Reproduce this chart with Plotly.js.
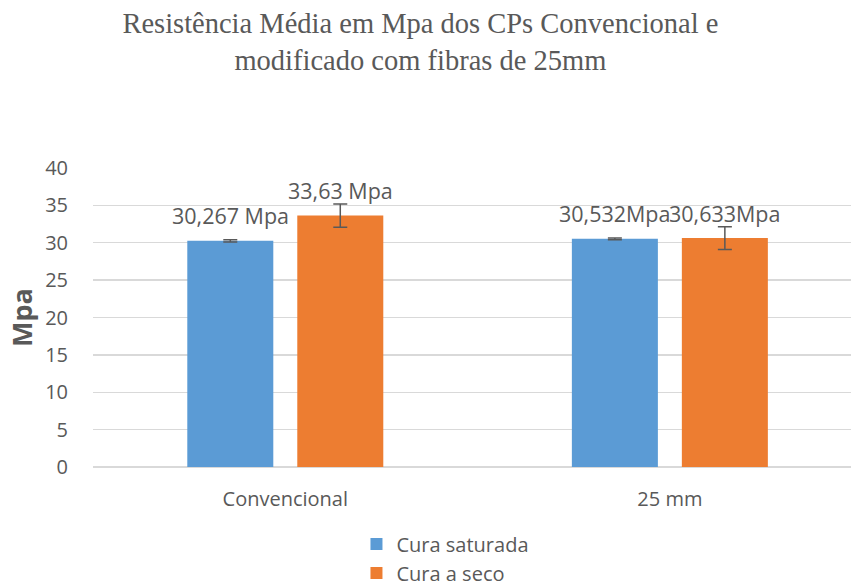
<!DOCTYPE html>
<html>
<head>
<meta charset="utf-8">
<script src="https://cdn.plot.ly/plotly-3.0.1.min.js"></script>
<style>html,body{margin:0;padding:0;background:#fff;}#chart{width:851px;height:586px;}</style>
</head>
<body>
<div id="chart"></div>
<script>
const categories = ['Convencional', '25 mm'];
const seriesNames = ['Cura saturada', 'Cura a seco'];
const curaSaturada = [30.267, 30.532];
const curaSeco = [33.63, 30.633];
const erroSaturada = [0.15, 0.12];
const erroSeco = [1.55, 1.52];
const rotulosSaturada = ['30,267 Mpa', '30,532Mpa'];
const rotulosSeco = ['33,63 Mpa', '30,633Mpa'];
const yTicks = [0, 5, 10, 15, 20, 25, 30, 35, 40];

const textColor = '#595959';
const font = 'Open Sans, sans-serif';
const bargap = 0.428;
const bargroupgap = 0.218;

const errStyle = {type: 'data', visible: true, color: '#595959', thickness: 1.5, width: 7};

const traces = [
  {type: 'bar', name: seriesNames[0], x: categories, y: curaSaturada,
   marker: {color: '#5B9BD5'}, error_y: Object.assign({array: erroSaturada}, errStyle), hoverinfo: 'none'},
  {type: 'bar', name: seriesNames[1], x: categories, y: curaSeco,
   marker: {color: '#ED7D31'}, error_y: Object.assign({array: erroSeco}, errStyle), hoverinfo: 'none'}
];

// label positions follow the bar slots
const plotLeft = 93, plotWidth = 758;
const xRange = [-0.5, 1.471];
const pxPerCat = plotWidth / (xRange[1] - xRange[0]);
const slot = pxPerCat * (1 - bargap) / 2;
const annotations = [];
categories.forEach((c, i) => {
  annotations.push({x: c, y: curaSaturada[i], xref: 'x', yref: 'y', text: rotulosSaturada[i],
    showarrow: false, xshift: -slot / 2, yshift: 25, yanchor: 'middle',
    font: {family: font, size: 21.5, color: textColor}});
  annotations.push({x: c, y: curaSeco[i], xref: 'x', yref: 'y', text: rotulosSeco[i],
    showarrow: false, xshift: slot / 2, yshift: 25, yanchor: 'middle',
    font: {family: font, size: 21.5, color: textColor}});
});

const layout = {
  width: 851, height: 586,
  paper_bgcolor: '#ffffff', plot_bgcolor: '#ffffff',
  margin: {l: plotLeft, r: 0, t: 168, b: 119, autoexpand: false},
  title: {text: 'Resistência Média em Mpa dos CPs Convencional e<br>modificado com fibras de 25mm',
    font: {family: 'Liberation Serif, serif', size: 28.5, color: textColor},
    x: 0.494, xanchor: 'center', yref: 'container', y: 0.943, yanchor: 'middle'},
  barmode: 'group', bargap: bargap, bargroupgap: bargroupgap,
  showlegend: true,
  legend: {orientation: 'v', x: 0.465, xanchor: 'center', yref: 'container', y: 0.105, yanchor: 'top',
    font: {family: font, size: 20, color: textColor}, traceorder: 'normal',
    itemwidth: 30},
  xaxis: {type: 'category', range: xRange, showgrid: false, showline: false, zeroline: false,
    ticks: 'outside', ticklen: 14, tickcolor: 'rgba(0,0,0,0)',
    tickfont: {family: font, size: 20, color: textColor}},
  yaxis: {range: [0, 40], tickvals: yTicks, ticktext: yTicks.map(String),
    showgrid: true, gridcolor: '#D9D9D9', gridwidth: 1.3,
    zeroline: true, zerolinecolor: '#D9D9D9', zerolinewidth: 1.3, showline: false,
    ticks: 'outside', ticklen: 20, tickcolor: 'rgba(0,0,0,0)',
    tickfont: {family: font, size: 20, color: textColor},
    title: {text: '<b>Mpa</b>', font: {family: font, size: 27, color: textColor}, standoff: 4}},
  annotations: annotations
};

Plotly.newPlot('chart', traces, layout, {displayModeBar: false, staticPlot: true});
</script>
</body>
</html>
